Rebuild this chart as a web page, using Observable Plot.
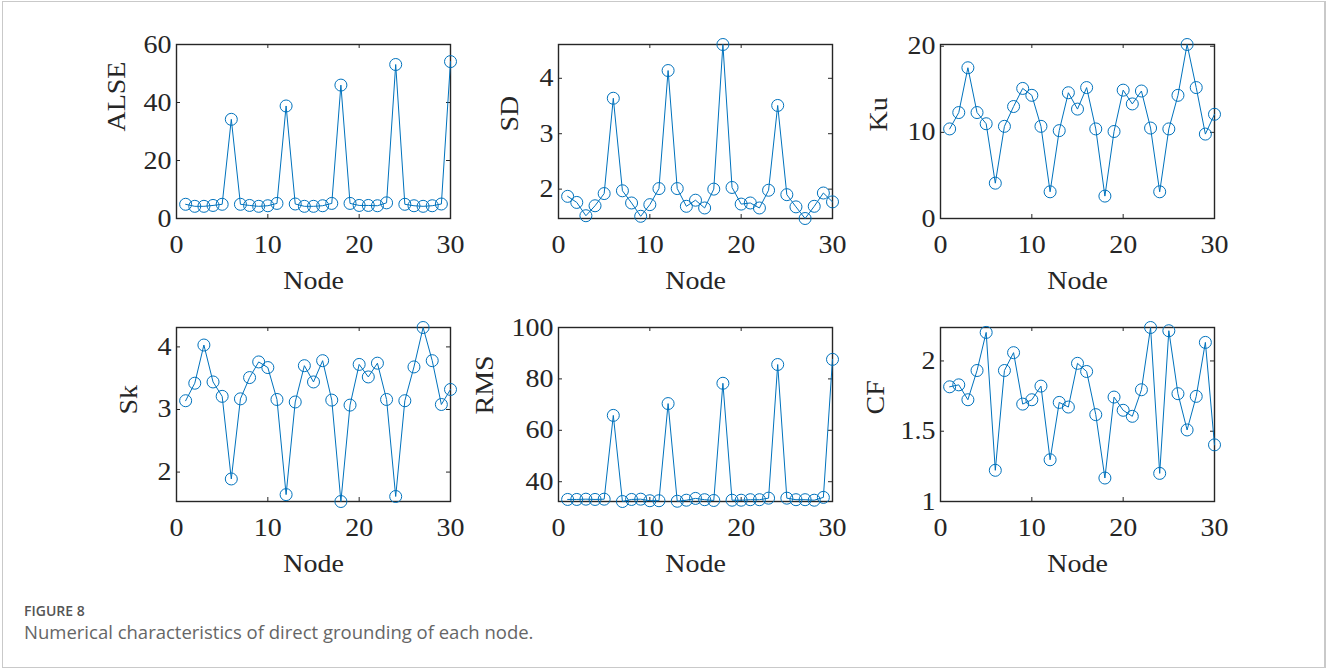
<!DOCTYPE html>
<html>
<head>
<meta charset="utf-8">
<script src="https://cdn.jsdelivr.net/npm/d3@7"></script>
<script src="https://cdn.jsdelivr.net/npm/@observablehq/plot@0.6"></script>
<style>
  html, body { margin: 0; padding: 0; background: #fff; }
  #page { position: relative; width: 1327px; height: 670px; overflow: hidden; background: #fff; }
  #border { position: absolute; left: 2px; top: 1px; width: 1321px; height: 665px;
            border: 1px solid #c9c9c9; border-right-width: 2px; box-sizing: content-box; }
  .panel { position: absolute; }
  #figno { position: absolute; left: 24px; top: 604px; font: 600 14px/14px "Open Sans", sans-serif; color: #555; }
  #caption { position: absolute; left: 24px; top: 623px; font: 400 18.5px/18px "Open Sans", sans-serif; color: #666; }
</style>
</head>
<body>
<div id="page">
  <div id="border"></div>
  <div id="figno">FIGURE 8</div>
  <div id="caption">Numerical characteristics of direct grounding of each node.</div>
</div>
<script>
// Node index (x axis) and the six characteristics measured at each node
const nodes = [1,2,3,4,5,6,7,8,9,10,11,12,13,14,15,16,17,18,19,20,21,22,23,24,25,26,27,28,29,30];
const alse = [4.9,4.2,4.2,4.5,4.9,34.2,4.9,4.5,4.2,4.4,5.2,38.8,5.0,4.2,4.2,4.4,5.2,46.0,5.2,4.5,4.5,4.4,5.4,53.1,4.9,4.4,4.2,4.4,5.0,54.1];
const sd   = [1.87,1.76,1.52,1.70,1.92,3.64,1.97,1.75,1.51,1.72,2.01,4.14,2.01,1.69,1.80,1.66,2.00,4.61,2.03,1.73,1.75,1.66,1.98,3.51,1.90,1.68,1.47,1.69,1.93,1.77];
const ku   = [10.4,12.3,17.5,12.3,11.0,4.1,10.7,13.0,15.1,14.3,10.7,3.1,10.2,14.6,12.7,15.2,10.4,2.6,10.1,14.9,13.3,14.8,10.5,3.1,10.4,14.3,20.2,15.2,9.8,12.1];
const sk   = [3.14,3.42,4.03,3.44,3.21,1.89,3.17,3.51,3.76,3.67,3.16,1.64,3.12,3.70,3.44,3.78,3.15,1.53,3.07,3.72,3.52,3.74,3.16,1.61,3.14,3.68,4.31,3.78,3.08,3.32];
const rms  = [33.1,33.1,33.2,33.1,33.2,65.8,32.3,33.1,33.2,32.6,32.6,70.4,32.4,32.8,33.5,33.0,32.7,78.3,32.8,32.8,33.0,33.0,33.6,85.6,33.6,33.0,33.0,32.8,33.9,87.6];
const cf   = [1.816,1.830,1.724,1.932,2.203,1.222,1.932,2.059,1.693,1.724,1.821,1.297,1.705,1.672,1.983,1.925,1.618,1.167,1.743,1.649,1.606,1.795,2.238,1.200,2.215,1.767,1.509,1.748,2.132,1.403];

// Tick values
const xTicks = [0, 10, 20, 30];
const alseTicks = [0, 20, 40, 60];
const sdTicks = [2, 3, 4];
const kuTicks = [0, 10, 20];
const skTicks = [2, 3, 4];
const rmsTicks = [40, 60, 80, 100];
const cfTicks = [1, 1.5, 2];

const xLabel = "Node";

// Panel geometry (inner axes box size and margins)
const W = 274, H = 174;
const M = { left: 90, right: 10, top: 10, bottom: 80 };
const BLUE = "#0072BD", INK = "#262626";
const TICK = 4;          // inward tick length
const STRETCH = 1.12;    // horizontal widening of the serif labels

const panels = [
  { name: "ALSE", values: alse, domain: [0, 60], ticks: alseTicks, boxLeft: 176, boxTop: 44, labelGap: 60 },
  { name: "SD",   values: sd,   domain: d3.extent(sd), ticks: sdTicks, boxLeft: 558, boxTop: 44, labelGap: 49 },
  { name: "Ku",   values: ku,   domain: [0, d3.max(ku)], ticks: kuTicks, boxLeft: 940, boxTop: 44, labelGap: 62 },
  { name: "Sk",   values: sk,   domain: d3.extent(sk), ticks: skTicks, boxLeft: 176, boxTop: 327, labelGap: 48 },
  { name: "RMS",  values: rms,  domain: [d3.min(rms), 100], ticks: rmsTicks, boxLeft: 558, boxTop: 327, labelGap: 74 },
  { name: "CF",   values: cf,   domain: [1, d3.max(cf)], ticks: cfTicks, boxLeft: 940, boxTop: 327, labelGap: 65 }
];

const page = document.getElementById("page");

for (const p of panels) {
  const data = nodes.map((n, i) => ({ node: n, value: p.values[i] }));
  const chart = Plot.plot({
    width: M.left + W + M.right,
    height: M.top + H + M.bottom,
    marginLeft: M.left, marginRight: M.right, marginTop: M.top, marginBottom: M.bottom,
    style: { fontFamily: "'Liberation Serif', 'Times New Roman', serif", fontSize: "25px", color: INK, background: "transparent", overflow: "visible" },
    x: { domain: [0, 30], label: null },
    y: { domain: p.domain, label: null },
    marks: [
      // inward tick marks on all four sides
      Plot.ruleX(xTicks, { x: d => d, insetTop: H - TICK, stroke: INK, strokeWidth: 1 }),
      Plot.ruleX(xTicks, { x: d => d, insetBottom: H - TICK, stroke: INK, strokeWidth: 1 }),
      Plot.ruleY(p.ticks, { y: d => d, insetLeft: W - TICK, stroke: INK, strokeWidth: 1 }),
      Plot.ruleY(p.ticks, { y: d => d, insetRight: W - TICK, stroke: INK, strokeWidth: 1 }),
      Plot.frame({ stroke: INK, strokeWidth: 1.4 }),
      Plot.axisX({ ticks: xTicks, tickSize: 0, tickPadding: 17, tickFormat: d => String(d), label: null }),
      Plot.axisY({ ticks: p.ticks, tickSize: 0, tickPadding: 5, tickFormat: d => String(d), label: null }),
      Plot.line(data, { x: "node", y: "value", stroke: BLUE, strokeWidth: 1 }),
      Plot.dot(data, { x: "node", y: "value", r: 6, stroke: BLUE, strokeWidth: 1, fill: "none" }),
      Plot.text([xLabel], { text: d => d, frameAnchor: "bottom", dy: 70, fontSize: 25 }),
      Plot.text([p.name], { text: d => d, frameAnchor: "left", dx: -p.labelGap, rotate: -90, fontSize: 25 })
    ]
  });
  // widen serif glyphs horizontally about each label's anchor point
  chart.querySelectorAll("text").forEach(t => {
    const tr = t.getAttribute("transform") || "";
    let x = parseFloat(t.getAttribute("x"));
    if (!isFinite(x)) x = 0;
    t.setAttribute("transform", `${tr} translate(${x},0) scale(${STRETCH},1) translate(${-x},0)`);
  });
  chart.classList.add("panel");
  chart.style.left = (p.boxLeft - M.left) + "px";
  chart.style.top = (p.boxTop - M.top) + "px";
  page.appendChild(chart);
}
</script>
</body>
</html>
